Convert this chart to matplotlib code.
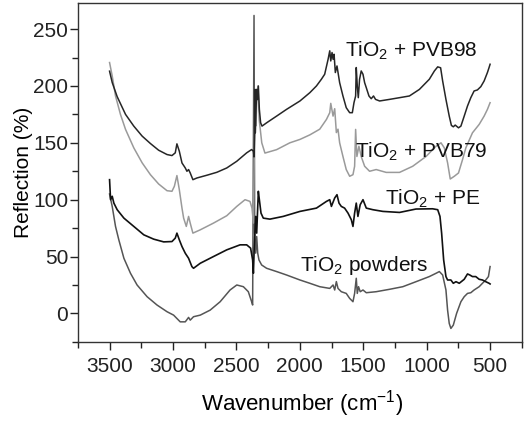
import matplotlib
matplotlib.use("Agg")
import matplotlib.pyplot as plt
from matplotlib.ticker import MultipleLocator

plt.rcParams['font.family'] = ['Liberation Sans', 'DejaVu Sans']
plt.rcParams['mathtext.fontset'] = 'custom'
plt.rcParams['mathtext.rm'] = 'Liberation Sans'
plt.rcParams['mathtext.it'] = 'Liberation Sans:italic'

# ---------------- data ----------------
pvb98_x = [3500, 3479, 3440, 3374, 3309, 3243, 3178, 3113, 3047, 3008, 2982, 2969, 2950, 2929,
           2903, 2890, 2877, 2864, 2843, 2811, 2733, 2654, 2576, 2497, 2419, 2380, 2366, 2361,
           2356, 2353, 2351, 2346, 2340, 2335, 2327, 2319, 2309, 2298, 2262, 2183, 2105, 1999,
           1921, 1869, 1830, 1804, 1777, 1764, 1756, 1746, 1738, 1730, 1720, 1707, 1686, 1660,
           1634, 1607, 1586, 1573, 1560, 1555, 1547, 1539, 1529, 1516, 1502, 1489, 1476, 1455,
           1437, 1419, 1403, 1371, 1293, 1214, 1136, 1057, 979, 939, 913, 890, 874, 848, 822,
           805, 790, 775, 749, 730, 704, 678, 652, 626, 600, 573, 547, 521, 508, 500]
pvb98_y = [213, 203, 190.6, 175, 164.7, 155.9, 149.4, 143.5, 139.7, 138.8, 141.2, 149.1, 142.6, 132.3,
           127.9, 125, 126.5, 123.5, 117.6, 119.1, 121.5, 124.1, 127.9, 133.8, 141.2, 144.1, 142.6, 137.6,
           158.8, 197, 158.8, 176.5, 197, 188, 200, 179.4, 167.6, 164.7, 167.6, 173.5, 179.4, 186.8,
           194.1, 200, 205.9, 210.3, 223.5, 230.9, 222, 229.4, 223.5, 227.9, 211.8, 217.6, 202.9, 191.2,
           180.9, 176.5, 176.5, 185.3, 191.2, 216.2, 200, 189.7, 205.9, 213.2, 210.3, 202.9, 198.5, 191.2,
           188.8, 191.2, 188.2, 186.8, 188.2, 189.7, 191.2, 197, 205.9, 213.2, 216.8, 216, 204.4, 188.2, 173.5,
           165.3, 164.1, 165.6, 163.2, 164.7, 173.5, 182.4, 189.7, 195.6, 196.5, 199.4, 204.4, 211.8, 216.2, 219.1]

pvb79_x = [3500, 3479, 3453, 3414, 3374, 3309, 3243, 3178, 3113, 3047, 3008, 2989, 2969, 2950,
           2929, 2916, 2895, 2877, 2864, 2843, 2785, 2681, 2576, 2497, 2432, 2393, 2377, 2366,
           2358, 2350, 2345, 2340, 2330, 2320, 2300, 2275, 2183, 2079, 1999, 1921, 1843, 1790,
           1764, 1756, 1738, 1725, 1712, 1699, 1686, 1660, 1634, 1607, 1581, 1568, 1560, 1550,
           1534, 1516, 1489, 1450, 1398, 1319, 1214, 1110, 1005, 926, 887, 861, 835, 814, 782,
           749, 717, 691, 639, 586, 547, 521, 500]
pvb79_y = [220.6, 208.8, 191.2, 175, 161.8, 145.6, 132.4, 122, 113.8, 107.9, 107.4, 111.8, 121.2, 108.8,
           92.6, 83.8, 76.5, 85.3, 79.4, 70.6, 73.5, 79.4, 85.9, 94.1, 100, 98.5, 92.6, 79.4,
           150, 191, 165, 188, 200, 170, 150, 141, 144, 150, 153, 157, 162, 170.6,
           176.5, 184.7, 173.5, 180, 159, 162, 150, 138, 126.5, 120.6, 122, 129.4, 161.8, 138,
           147, 138, 129.4, 125, 126.5, 124, 124, 129.4, 138, 147, 150, 145.6, 132.4, 118.2, 120.6,
           123.5, 135.3, 145.6, 158.8, 166.2, 173.5, 179.4, 185.3]

pe_x = [3500, 3492, 3479, 3466, 3440, 3387, 3309, 3230, 3152, 3073, 3008, 2982, 2969, 2950,
        2929, 2903, 2877, 2851, 2838, 2785, 2681, 2576, 2471, 2419, 2388, 2372, 2366, 2359,
        2348, 2340, 2327, 2319, 2306, 2288, 2236, 2131, 1999, 1869, 1790, 1764, 1751, 1725,
        1707, 1691, 1673, 1647, 1620, 1594, 1581, 1568, 1555, 1542, 1524, 1502, 1476, 1424,
        1345, 1214, 1084, 953, 913, 895, 882, 866, 848, 835, 809, 790, 769, 743, 704, 678,
        660, 639, 613, 586, 560, 534, 508, 500]
pe_y = [117.6, 100, 103, 97, 91.2, 83.8, 76.5, 69.1, 65.3, 62.9, 63.2, 66.2, 70.6, 64.7,
        58.8, 52.9, 48.5, 41.2, 39.7, 44.1, 50, 55.9, 60.3, 60.3, 57.4, 47, 35.3, 58.8,
        85.3, 70.6, 107.4, 100, 88.2, 83.8, 82.9, 85.3, 89.7, 92.6, 98.5, 100, 94.1, 101.5,
        104.4, 97, 94.1, 92.6, 88.2, 82.4, 76.5, 88.2, 97, 85.3, 95.6, 100, 92.6, 91.2,
        89.7, 88.8, 91.8, 92, 91.2, 85.3, 70.6, 47, 32.4, 29.4, 29.4, 26.5, 27.9, 26.5, 30, 34.7,
        33.8, 32.4, 32.4, 30, 29.4, 27.9, 26.5, 25.9]

powder_x = [3500, 3479, 3453, 3427, 3387, 3335, 3283, 3204, 3126, 3047, 2995, 2943, 2903, 2877,
            2864, 2838, 2785, 2707, 2628, 2550, 2497, 2445, 2406, 2380, 2372, 2361, 2356, 2348,
            2340, 2332, 2322, 2301, 2262, 2183, 2105, 1999, 1921, 1843, 1764, 1738, 1725, 1712,
            1699, 1673, 1634, 1607, 1581, 1568, 1555, 1547, 1537, 1524, 1502, 1476, 1398, 1293,
            1188, 1084, 979, 926, 900, 874, 848, 835, 822, 809, 790, 764, 730, 704, 678, 652,
            626, 586, 560, 534, 513, 500]
powder_y = [105, 94, 76.5, 64.7, 48.5, 35.3, 25, 14.7, 7.4, 1.5, -1.5, -7.4, -7.4, -3.5,
            -5.9, -2.9, -1.5, 2.9, 10.3, 20.6, 25, 23.5, 19.1, 10.3, 7.4, 262, 70.6, 53,
            67.6, 53, 47, 42.6, 39.7, 36.8, 33.8, 29.4, 26.5, 23.5, 22, 25, 20.6, 28,
            22, 19.1, 17.6, 13.2, 10.3, 17.6, 30.9, 17.6, 23.5, 19.1, 20.6, 18.2, 19.1, 21.2,
            23.5, 27.9, 32.4, 35.3, 36.8, 33.8, 20.6, 2.9, -8.8, -13.2, -10.3, 0, 10.3, 14.7, 17.6, 18.2,
            20.6, 23.5, 26.5, 29.4, 32.4, 41.2]

labels = ["TiO$_\\mathrm{2}$ + PVB98", "TiO$_\\mathrm{2}$ + PVB79",
          "TiO$_\\mathrm{2}$ + PE", "TiO$_\\mathrm{2}$ powders"]
label_x = [1646, 1568, 1332, 1999]
label_y = [226, 137, 96, 37]

xticks = [3500, 3000, 2500, 2000, 1500, 1000, 500]
yticks = [0, 50, 100, 150, 200, 250]

# ---------------- plot ----------------
fig = plt.figure(figsize=(5.26, 4.21), dpi=100)
ax = fig.add_axes([0.148, 0.188, 0.844, 0.805])

ax.plot(powder_x, powder_y, color='#555555', lw=1.1)
ax.plot(pe_x, pe_y, color='#111111', lw=1.2)
ax.plot(pvb79_x, pvb79_y, color='#9a9a9a', lw=1.1)
ax.plot(pvb98_x, pvb98_y, color='#262626', lw=1.1)

for t, x, y in zip(labels, label_x, label_y):
    ax.text(x, y, t, fontsize=15, ha='left', va='baseline', color='#111111')

ax.set_xlim(3750, 250)
ax.set_ylim(-25, 273)
ax.set_xticks(xticks)
ax.set_yticks(yticks)
ax.xaxis.set_minor_locator(MultipleLocator(250))
ax.yaxis.set_minor_locator(MultipleLocator(25))
ax.tick_params(which='major', direction='out', length=6, width=1, labelsize=15, colors='#222222')
ax.tick_params(which='minor', direction='out', length=4, width=1, colors='#222222')
ax.tick_params(axis='y', which='major', pad=1)
ax.tick_params(axis='x', which='major', pad=5)
ax.tick_params(top=False, right=False, which='both')
for s in ax.spines.values():
    s.set_linewidth(1.0)
    s.set_color('#333333')

ax.set_xlabel("Wavenumber (cm$^{\\mathrm{-1}}$)", fontsize=16)
ax.set_ylabel("Reflection (%)", fontsize=15)
ax.xaxis.set_label_coords(0.505, -0.135)
ax.yaxis.set_label_coords(-0.10, 0.5)

fig.savefig("out.png", dpi=100)
